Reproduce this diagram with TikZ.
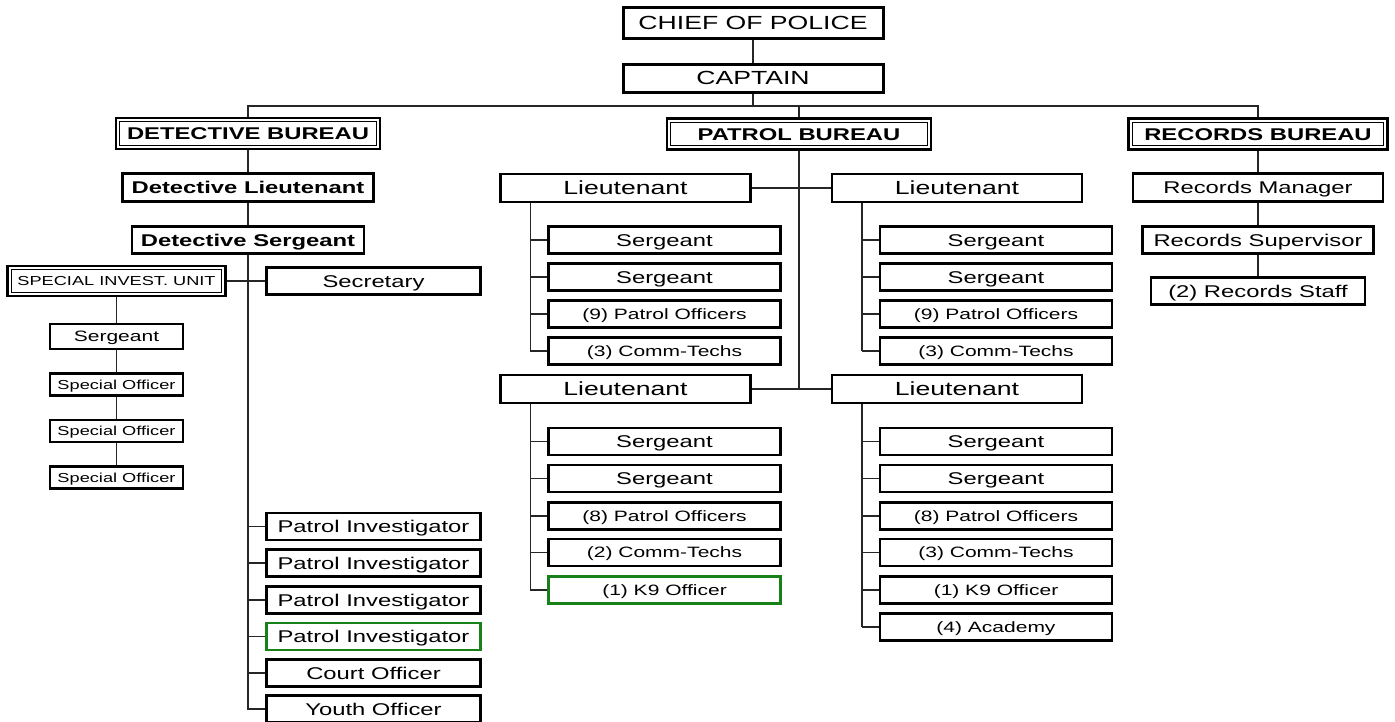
\documentclass[tikz,border=0pt]{standalone}
\usepackage{fontspec}
\setmainfont{Liberation Sans}[FakeStretch=1.4]
\definecolor{kninegreen}{RGB}{24,128,24}
\tikzset{
    rankbox/.style={draw, line width=2.2pt, inner sep=0pt, minimum height=27pt, text depth=0pt},
    topbox/.style={rankbox, line width=3pt},
    greenbox/.style={rankbox, draw=kninegreen},
    bureaubox/.style={draw, line width=2.6pt, inner sep=0pt, minimum height=31pt, text depth=0pt,
        path picture={\draw[line width=1pt]
            ([shift={(3.8pt,-3.8pt)}]path picture bounding box.north west) rectangle
            ([shift={(-3.8pt,3.8pt)}]path picture bounding box.south east);}},
    link/.style={line width=1.2pt, draw=black!85},
    bigtext/.style={font=\fontsize{19}{22}\selectfont, text height=13.7pt},
    midtext/.style={font=\fontsize{17}{20}\selectfont, text height=12.2pt},
    boldtext/.style={font=\fontsize{17}{20}\selectfont\bfseries, text height=12.2pt},
    smalltext/.style={font=\fontsize{15}{18}\selectfont, text height=10.8pt},
    tinytext/.style={font=\fontsize{13}{16}\selectfont, text height=9.4pt}
}

\begin{document}
\begin{tikzpicture}[x=1pt, y=-1pt]
    \useasboundingbox (0,0) rectangle (1395,721);

    \node[topbox, bigtext, minimum width=260pt, minimum height=31pt] (chief) at (753,22.5) {CHIEF OF POLICE};
    \node[topbox, bigtext, minimum width=260pt, minimum height=28pt] (captain) at (753,78) {CAPTAIN};
    \coordinate (bus) at (753,106);

    \node[bureaubox, boldtext, minimum width=264pt] (detbur) at (248,133.5) {DETECTIVE BUREAU};
    \node[bureaubox, boldtext, minimum width=264pt] (patbur) at (799,134) {PATROL BUREAU};
    \node[bureaubox, boldtext, minimum width=259pt] (recbur) at (1258,134) {RECORDS BUREAU};

    % detective bureau
    \node[rankbox, boldtext, minimum width=251pt, minimum height=28pt] (detlt) at (248,187.5) {Detective Lieutenant};
    \node[rankbox, boldtext, minimum width=232pt] (detsgt) at (248,240) {Detective Sergeant};
    \node[bureaubox, tinytext, minimum width=218pt, minimum height=30pt] (siu) at (116.5,281) {SPECIAL INVEST. UNIT};
    \node[rankbox, midtext, minimum width=214pt] (secretary) at (373.5,281) {Secretary};
    \node[rankbox, smalltext, minimum width=133pt, minimum height=25pt] (siusgt) at (116.5,336.5) {Sergeant};
    \node[rankbox, tinytext, minimum width=133pt, minimum height=22pt] (so1) at (116.5,384.5) {Special Officer};
    \node[rankbox, tinytext, minimum width=133pt, minimum height=22pt] (so2) at (116.5,431) {Special Officer};
    \node[rankbox, tinytext, minimum width=133pt, minimum height=22pt] (so3) at (116.5,477.5) {Special Officer};
    \node[rankbox, midtext, minimum width=214pt] (pi1) at (373.5,526.5) {Patrol Investigator};
    \node[rankbox, midtext, minimum width=214pt] (pi2) at (373.5,563) {Patrol Investigator};
    \node[rankbox, midtext, minimum width=214pt] (pi3) at (373.5,600) {Patrol Investigator};
    \node[greenbox, midtext, minimum width=214pt] (pi4) at (373.5,636.5) {Patrol Investigator};
    \node[rankbox, midtext, minimum width=214pt] (court) at (373.5,673) {Court Officer};
    \node[rankbox, midtext, minimum width=214pt] (youth) at (373.5,709) {Youth Officer};

    % patrol bureau
    \node[rankbox, bigtext, minimum width=250pt, minimum height=28pt] (ltA) at (625.5,188) {Lieutenant};
    \node[rankbox, bigtext, minimum width=250pt, minimum height=28pt] (ltB) at (957,188) {Lieutenant};
    \node[rankbox, bigtext, minimum width=250pt, minimum height=28pt] (ltC) at (625.5,389) {Lieutenant};
    \node[rankbox, bigtext, minimum width=250pt, minimum height=28pt] (ltD) at (957,389) {Lieutenant};

    \node[rankbox, midtext, minimum width=232pt] (a1) at (664.5,240) {Sergeant};
    \node[rankbox, midtext, minimum width=232pt] (a2) at (664.5,277) {Sergeant};
    \node[rankbox, smalltext, minimum width=232pt] (a3) at (664.5,314) {(9) Patrol Officers};
    \node[rankbox, smalltext, minimum width=232pt] (a4) at (664.5,351) {(3) Comm-Techs};

    \node[rankbox, midtext, minimum width=232pt] (b1) at (996,240) {Sergeant};
    \node[rankbox, midtext, minimum width=232pt] (b2) at (996,277) {Sergeant};
    \node[rankbox, smalltext, minimum width=232pt] (b3) at (996,314) {(9) Patrol Officers};
    \node[rankbox, smalltext, minimum width=232pt] (b4) at (996,351) {(3) Comm-Techs};

    \node[rankbox, midtext, minimum width=232pt] (c1) at (664.5,441.5) {Sergeant};
    \node[rankbox, midtext, minimum width=232pt] (c2) at (664.5,478.5) {Sergeant};
    \node[rankbox, smalltext, minimum width=232pt] (c3) at (664.5,516) {(8) Patrol Officers};
    \node[rankbox, smalltext, minimum width=232pt] (c4) at (664.5,552.5) {(2) Comm-Techs};
    \node[greenbox, smalltext, minimum width=232pt] (c5) at (664.5,590) {(1) K9 Officer};

    \node[rankbox, midtext, minimum width=232pt] (d1) at (996,441.5) {Sergeant};
    \node[rankbox, midtext, minimum width=232pt] (d2) at (996,478.5) {Sergeant};
    \node[rankbox, smalltext, minimum width=232pt] (d3) at (996,516) {(8) Patrol Officers};
    \node[rankbox, smalltext, minimum width=232pt] (d4) at (996,552.5) {(3) Comm-Techs};
    \node[rankbox, smalltext, minimum width=232pt] (d5) at (996,590) {(1) K9 Officer};
    \node[rankbox, smalltext, minimum width=232pt] (d6) at (996,627) {(4) Academy};

    % records bureau
    \node[rankbox, midtext, minimum width=250pt, minimum height=28pt] (recmgr) at (1258,187.5) {Records Manager};
    \node[rankbox, midtext, minimum width=231pt] (recsup) at (1258,240) {Records Supervisor};
    \node[rankbox, midtext, minimum width=214pt] (recstaff) at (1258,291) {(2) Records Staff};

    % connectors
    \draw[link] (chief) -- (captain);
    \draw[link] (captain) -- (bus);
    \draw[link] (detbur.north) -- (detbur.north |- bus) -- (recbur.north |- bus) -- (recbur.north);
    \draw[link] (patbur.north |- bus) -- (patbur.north);

    \draw[link] (detbur) -- (detlt);
    \draw[link] (detlt) -- (detsgt);
    \draw[link] (detsgt.south) |- (youth.west);
    \draw[link] (siu) -- (secretary);
    \foreach \n in {pi1,pi2,pi3,pi4,court}
        \draw[link] (detsgt.south |- \n.west) -- (\n.west);
    \draw[link] (siu) -- (siusgt);
    \draw[link] (siusgt) -- (so1);
    \draw[link] (so1) -- (so2);
    \draw[link] (so2) -- (so3);

    \draw[link] (patbur.south) -- (patbur.south |- ltC.east);
    \draw[link] (ltA) -- (ltB);
    \draw[link] (ltC) -- (ltD);
    \draw[link] (a4.west) -- ++(-17,0) coordinate (ta);
    \draw[link] (ta) -- (ta |- ltA.south);
    \draw[link] (b4.west) -- ++(-17,0) coordinate (tb);
    \draw[link] (tb) -- (tb |- ltB.south);
    \draw[link] (c5.west) -- ++(-17,0) coordinate (tc);
    \draw[link] (tc) -- (tc |- ltC.south);
    \draw[link] (d6.west) -- ++(-17,0) coordinate (td);
    \draw[link] (td) -- (td |- ltD.south);
    \foreach \n in {a1,a2,a3,b1,b2,b3,c1,c2,c3,c4,d1,d2,d3,d4,d5}
        \draw[link] (\n.west) -- ++(-17,0);

    \draw[link] (recbur) -- (recmgr);
    \draw[link] (recmgr) -- (recsup);
    \draw[link] (recsup) -- (recstaff);
\end{tikzpicture}
\end{document}
